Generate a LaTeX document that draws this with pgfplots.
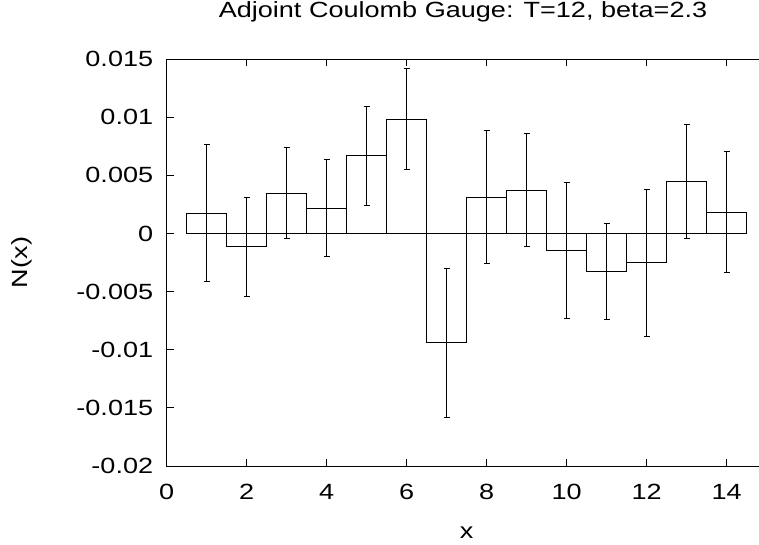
\documentclass[border=0pt]{standalone}
\usepackage{pgfplots}
\pgfplotsset{compat=1.18}
\usepackage{fontspec}
\setmainfont{Liberation Sans}[FakeStretch=1.23]
\newcommand{\chartfont}{\fontsize{22}{26}\selectfont}
\pgfplotstableread{
x y e
1 0.00176 0.00590
2 -0.00115 0.00427
3 0.00348 0.00391
4 0.00219 0.00414
5 0.00670 0.00425
6 0.00983 0.00436
7 -0.00940 0.00638
8 0.00314 0.00572
9 0.00374 0.00486
10 -0.00147 0.00582
11 -0.00328 0.00414
12 -0.00253 0.00630
13 0.00448 0.00487
14 0.00184 0.00523
}\datatable
\begin{document}
\begin{tikzpicture}
\path[use as bounding box] (-166.7pt,-78pt) rectangle (592.3pt,466pt);
\begin{axis}[
  scale only axis,
  width=600pt, height=407pt,
  xmin=0, xmax=15,
  ymin=-0.02, ymax=0.015,
  xtick={0,2,...,14},
  ytick={-0.02,-0.015,-0.01,-0.005,0,0.005,0.01,0.015},
  yticklabels={-0.02,-0.015,-0.01,-0.005,0,0.005,0.01,0.015},
  scaled y ticks=false,
  tick align=inside,
  major tick length=7pt,
  tick style={black, line width=0.8pt},
  axis line style={black, line width=0.8pt},
  /pgf/number format/assume math mode=true,
  tick label style={font=\chartfont},
  xticklabel style={yshift=-15pt},
  yticklabel style={xshift=-10pt},
  title={Adjoint Coulomb Gauge: T=12, beta=2.3},
  title style={font=\chartfont, at={(axis description cs:0.5,1)}, anchor=base, yshift=35pt, xshift=-3.7pt},
  xlabel={x},
  ylabel={N(x)},
  xlabel style={font=\chartfont, at={(axis description cs:0.5,0)}, anchor=center, yshift=-67pt},
  ylabel style={font=\chartfont, at={(axis description cs:-0.242,0.5)}, anchor=center},
  clip=false,
]
\addplot[ybar, bar width=1, draw=black, fill=none, line width=0.8pt] table[x=x, y=y] {\datatable};
\addplot[draw=none, mark=none, error bars/.cd, y dir=both, y explicit,
  error bar style={black, line width=0.8pt},
  error mark options={black, mark size=3.2pt, rotate=90, line width=0.8pt}]
  table[x=x, y=y, y error=e] {\datatable};
\end{axis}
\end{tikzpicture}
\end{document}
